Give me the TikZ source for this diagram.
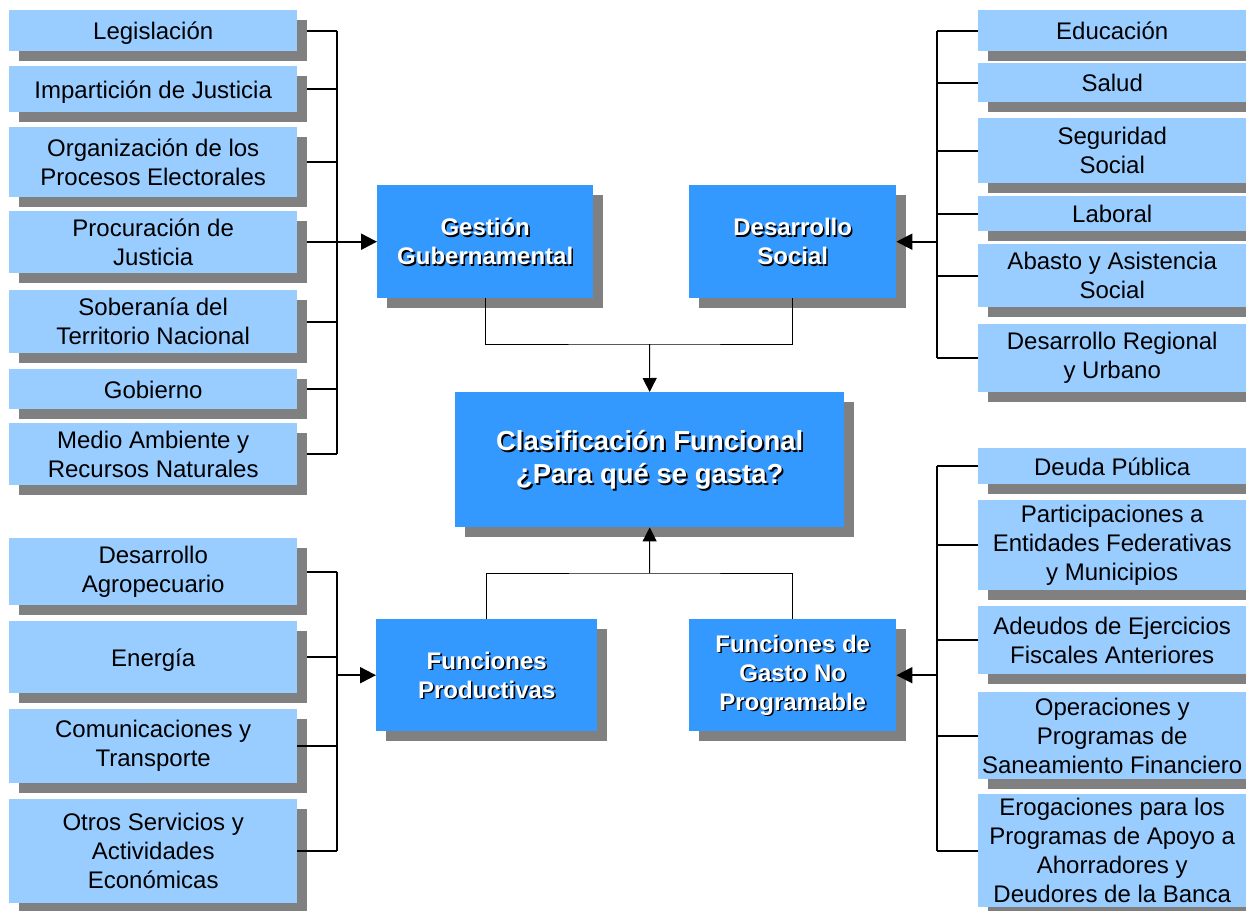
\documentclass[tikz,border=0pt]{standalone}
\usepackage{fontspec}
\setmainfont{Liberation Sans}
\usetikzlibrary{shadows,arrows.meta,backgrounds}
\definecolor{lb}{HTML}{99CCFF}
\definecolor{db}{HTML}{3399FF}
\definecolor{sg}{HTML}{808080}
\tikzset{
  sh/.style={general shadow={fill=sg, shadow xshift=10pt, shadow yshift=-10pt}},
  lbox/.style={sh, fill=lb, draw=none, anchor=north west, align=center, inner sep=0pt,
    font=\fontsize{24}{29}\selectfont},
  one/.style={text height=18pt, text depth=0pt},
  dbox/.style={sh, fill=db, draw=none, anchor=north west, inner sep=0pt},
  htxt/.style={align=center, inner sep=0pt, font=\bfseries\fontsize{24}{29}\selectfont, text=white},
  hsh/.style={htxt, text=black},
  ctxt/.style={align=center, inner sep=0pt, font=\bfseries\fontsize{27.5}{33}\selectfont, text=white},
  csh/.style={ctxt, text=black},
  bus/.style={line width=2pt},
  thinline/.style={line width=1pt},
  barr/.style={-{Triangle[length=16pt,width=16pt]}},
  tarr/.style={-{Triangle[length=14pt,width=14pt]}}
}
\begin{document}
\begin{tikzpicture}[x=1pt,y=-1pt]
\useasboundingbox (0,0) rectangle (1246,910);
\begin{scope}[on background layer]
  \fill[white] (0,0) rectangle (1246,910);
\end{scope}
% left boxes
\node[lbox,one,minimum width=288pt,minimum height=41pt] (leg) at (9,10) {Legislación};
\node[lbox,one,minimum width=288pt,minimum height=46pt] (imp) at (9,66) {Impartición de Justicia};
\node[lbox,minimum width=288pt,minimum height=70pt] (org) at (9,127) {Organización de los\\Procesos Electorales};
\node[lbox,minimum width=288pt,minimum height=62pt] (pro) at (9,211) {Procuración de\\Justicia};
\node[lbox,minimum width=288pt,minimum height=63pt] (sob) at (9,290) {Soberanía del\\Territorio Nacional};
\node[lbox,one,minimum width=288pt,minimum height=40pt] (gob) at (9,369) {Gobierno};
\node[lbox,minimum width=288pt,minimum height=62pt] (med) at (9,423) {Medio Ambiente y\\Recursos Naturales};
\node[lbox,minimum width=288pt,minimum height=67pt] (agr) at (9,538) {Desarrollo\\Agropecuario};
\node[lbox,one,minimum width=288pt,minimum height=72pt] (ene) at (9,621) {Energía};
\node[lbox,minimum width=288pt,minimum height=74pt] (com) at (9,709) {Comunicaciones y\\Transporte};
\node[lbox,minimum width=288pt,minimum height=104pt] (otr) at (9,799) {Otros Servicios y\\Actividades\\Económicas};
% right boxes
\node[lbox,one,minimum width=268pt,minimum height=41pt] (edu) at (978,10) {Educación};
\node[lbox,one,minimum width=268pt,minimum height=39pt] (sal) at (978,63) {Salud};
\node[lbox,minimum width=268pt,minimum height=65pt] (seg) at (978,118) {Seguridad\\Social};
\node[lbox,one,minimum width=268pt,minimum height=35pt] (lab) at (978,196) {Laboral};
\node[lbox,minimum width=268pt,minimum height=63pt] (aba) at (978,244) {Abasto y Asistencia\\Social};
\node[lbox,minimum width=268pt,minimum height=68pt] (dre) at (978,324) {Desarrollo Regional\\y Urbano};
\node[lbox,one,minimum width=268pt,minimum height=36pt] (deu) at (978,448) {Deuda Pública};
\node[lbox,minimum width=268pt,minimum height=90pt] (par) at (978,500) {Participaciones a\\Entidades Federativas\\y Municipios};
\node[lbox,minimum width=268pt,minimum height=68pt] (ade) at (978,606) {Adeudos de Ejercicios\\Fiscales Anteriores};
\node[lbox,minimum width=268pt,minimum height=87pt] (ope) at (978,692) {Operaciones y\\Programas de\\Saneamiento Financiero};
\node[lbox,minimum width=268pt,minimum height=113pt] (ero) at (978,794) {Erogaciones para los\\Programas de Apoyo a\\Ahorradores y\\Deudores de la Banca};
% header boxes
\node[dbox,minimum width=216pt,minimum height=113pt] (gg) at (377,185) {};
\node[dbox,minimum width=207pt,minimum height=113pt] (ds) at (689,185) {};
\node[dbox,minimum width=389pt,minimum height=135pt] (cf) at (455,392) {};
\node[dbox,minimum width=221pt,minimum height=112pt] (fp) at (376,619) {};
\node[dbox,minimum width=207pt,minimum height=112pt] (fg) at (689,619) {};
% header texts
\node[hsh] (ggs) at ([shift={(1.6,1.6)}]gg.center) {Gestión\\Gubernamental};
\node[htxt] (ggt) at (gg.center) {Gestión\\Gubernamental};
\node[hsh] (dss) at ([shift={(1.6,1.6)}]ds.center) {Desarrollo\\Social};
\node[htxt] (dst) at (ds.center) {Desarrollo\\Social};
\node[csh] (cfs) at ([shift={(1.8,1.8)}]cf.center) {Clasificación Funcional\\¿Para qué se gasta?};
\node[ctxt] (cft) at (cf.center) {Clasificación Funcional\\¿Para qué se gasta?};
\node[hsh] (fps) at ([shift={(1.6,1.6)}]fp.center) {Funciones\\Productivas};
\node[htxt] (fpt) at (fp.center) {Funciones\\Productivas};
\node[hsh] (fgs) at ([shift={(1.6,1.6)}]fg.center) {Funciones de\\Gasto No\\Programable};
\node[htxt] (fgt) at (fg.center) {Funciones de\\Gasto No\\Programable};
% bus coordinates
\coordinate (bL) at (337,0);
\coordinate (bR) at (937,0);
\coordinate (jt) at (649.5,344);
\coordinate (jb) at (649.5,573);
\begin{scope}[on background layer]
  \foreach \n in {leg,imp,org,pro,sob,gob,med,agr,ene}
    \draw[bus] (\n.east) -- (\n.east -| bL);
  \foreach \n in {edu,sal,seg,lab,aba,dre,deu,par,ade,ope,ero}
    \draw[bus] (\n.west) -- (\n.west -| bR);
\end{scope}
\draw[bus] (com.east) -- (com.east -| bL);
\draw[bus] (otr.east) -- (otr.east -| bL);
\draw[bus] (leg.east -| bL) -- (med.east -| bL);
\draw[bus] (agr.east -| bL) -- (otr.east -| bL);
\draw[bus] (edu.west -| bR) -- (dre.west -| bR);
\draw[bus] (deu.west -| bR) -- (ero.west -| bR);
\draw[bus,barr] (bL |- gg.west) -- (gg.west);
\draw[bus,barr] (bL |- fp.west) -- (fp.west);
\draw[bus,barr] (bR |- ds.east) -- (ds.east);
\draw[bus,barr] (bR |- fg.east) -- (fg.east);
\draw[thinline] (gg.south) |- (jt) -| (ds.south);
\draw[thinline,tarr] (jt) -- (cf.north);
\draw[thinline] (fp.north) |- (jb) -| (fg.north);
\draw[thinline,tarr] (jb) -- (cf.south);
\end{tikzpicture}
\end{document}
